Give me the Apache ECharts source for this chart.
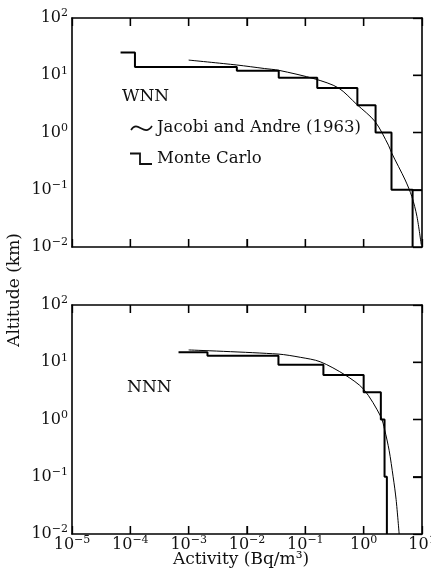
<!DOCTYPE html>
<html><head><meta charset="utf-8">
<script src="https://cdn.jsdelivr.net/npm/echarts@6/dist/echarts.min.js"></script>
<style>html,body{margin:0;padding:0;background:#fff}#c{width:431px;height:582px}</style>
</head><body><div id="c"></div>
<script>
// ---- data ----
// Tick exponents (labels are 10^exp)
const xTickExponents = [-5, -4, -3, -2, -1, 0, 1];
const yTickExponents = [-2, -1, 0, 1, 2];

// WNN panel – Monte Carlo histogram (activity Bq/m3 at each altitude step, km)
const wnnMcActivity = [6.8e-5, 1.2e-4, 6.7e-3, 0.035, 0.16, 0.78, 1.6, 3.0, 6.9];
const wnnMcAltitude = [25, 14, 12, 9, 6, 3, 1, 0.1, 0.01];
// WNN panel – Jacobi and Andre (1963)
const wnnJaActivity = [0.001, 0.0067, 0.02, 0.035, 0.147, 0.37, 0.76, 1.57, 2.66, 3.05, 5.15, 6.7, 8.2, 9.7];
const wnnJaAltitude = [18.4, 15.1, 13.1, 12.2, 8.6, 6.0, 3.1, 1.55, 0.6, 0.43, 0.148, 0.076, 0.034, 0.011];

// NNN panel – Monte Carlo histogram
const nnnMcActivity = [6.7e-4, 2.1e-3, 0.0346, 0.204, 1.0, 1.97, 2.28, 2.5];
const nnnMcAltitude = [15, 13, 9, 6, 3, 1, 0.1, 0.01];
// NNN panel – Jacobi and Andre (1963)
const nnnJaActivity = [0.001, 0.034, 0.082, 0.18, 0.48, 1.0, 1.97, 2.29, 2.73, 3.2, 3.6, 4.06];
const nnnJaAltitude = [16.4, 13.9, 12.2, 10.2, 6.0, 3.37, 1.12, 0.66, 0.29, 0.1, 0.04, 0.01];

// ---- chart ----
const FONT = 'DejaVu Serif';
const zip = (a, b) => a.map((v, i) => [v, b[i]]);
const xMin = Math.pow(10, xTickExponents[0]), xMax = Math.pow(10, xTickExponents[xTickExponents.length - 1]);
const yMin = Math.pow(10, yTickExponents[0]), yMax = Math.pow(10, yTickExponents[yTickExponents.length - 1]);

function supLabel(v) {
  const e = Math.round(Math.log10(v));
  return '{b|10}{s|' + (e < 0 ? '\u2212' + (-e) : e) + '}';
}
function richStyle() {
  return {
    b: { fontFamily: FONT, fontSize: 16, color: '#111' },
    s: { fontFamily: FONT, fontSize: 11, color: '#111', padding: [0, 0, 9, 0] }
  };
}
function xAx(gi, pos, labels) {
  return {
    type: 'log', logBase: 10, min: xMin, max: xMax, gridIndex: gi, position: pos,
    axisLine: { show: true, onZero: false, lineStyle: { color: '#000', width: 1.6 } },
    axisTick: { show: true, inside: true, length: 8, lineStyle: { color: '#000', width: 1.3 } },
    axisLabel: labels ? { show: true, margin: 1, formatter: supLabel, rich: richStyle() } : { show: false },
    splitLine: { show: false }, minorTick: { show: false }
  };
}
function yAx(gi, pos, labels) {
  return {
    type: 'log', logBase: 10, min: yMin, max: yMax, gridIndex: gi, position: pos,
    axisLine: { show: true, onZero: false, lineStyle: { color: '#000', width: 1.6 } },
    axisTick: { show: pos === 'right', inside: true, length: 9, lineStyle: { color: '#000', width: 1.3 } },
    axisLabel: labels ? { show: true, margin: 4, formatter: supLabel, rich: richStyle() } : { show: false },
    splitLine: { show: false }, minorTick: { show: false }
  };
}
function mc(data, xi, yi) {
  return { type: 'line', xAxisIndex: xi, yAxisIndex: yi, data: data, step: 'end', showSymbol: false,
    lineStyle: { width: 2 } };
}
function ja(data, xi, yi) {
  return { type: 'line', xAxisIndex: xi, yAxisIndex: yi, data: data, smooth: 0.3, showSymbol: false,
    lineStyle: { width: 1 } };
}
const annFont = '16.5px "DejaVu Serif"';

const chart = echarts.init(document.getElementById('c'), null, { renderer: 'canvas' });
const baseGraphic = [
  { type: 'text', x: 122, y: 97, style: { text: 'WNN', font: '17px "DejaVu Serif"', fill: '#111', textVerticalAlign: 'middle' } },
  { type: 'bezierCurve', shape: { x1: 131, y1: 130, cpx1: 138, cpy1: 119, cpx2: 144, cpy2: 138, x2: 152, y2: 126 },
    style: { stroke: '#111', lineWidth: 1.6, fill: null } },
  { type: 'text', x: 157, y: 128, style: { text: 'Jacobi and Andre (1963)', font: annFont, fill: '#111', textVerticalAlign: 'middle' } },
  { type: 'polyline', shape: { points: [[130, 153.5], [140, 153.5], [140, 164], [152, 164]] },
    style: { stroke: '#111', lineWidth: 1.8, fill: null } },
  { type: 'text', x: 157, y: 159, style: { text: 'Monte Carlo', font: annFont, fill: '#111', textVerticalAlign: 'middle' } },
  { type: 'text', x: 127, y: 388, style: { text: 'NNN', font: '17px "DejaVu Serif"', fill: '#111', textVerticalAlign: 'middle' } },
  { type: 'text', x: 15, y: 290, rotation: Math.PI / 2,
    style: { text: 'Altitude (km)', font: '17px "DejaVu Serif"', fill: '#111', textAlign: 'center', textVerticalAlign: 'middle' } },
  { type: 'text', x: 241, y: 560,
    style: { text: 'Activity (Bq/m\u00b3)', font: '17px "DejaVu Serif"', fill: '#111', textAlign: 'center', textVerticalAlign: 'middle' } }
];

chart.setOption({
  animation: false,
  backgroundColor: '#fff',
  color: ['#000'],
  grid: [
    { left: 72, right: 9, top: 18, height: 229, outerBoundsMode: 'none' },
    { left: 72, right: 9, top: 305, height: 229, outerBoundsMode: 'none' }
  ],
  xAxis: [xAx(0, 'bottom', false), xAx(0, 'top', false), xAx(1, 'bottom', true), xAx(1, 'top', false)],
  yAxis: [yAx(0, 'left', true), yAx(0, 'right', false), yAx(1, 'left', true), yAx(1, 'right', false)],
  series: [
    mc(zip(wnnMcActivity, wnnMcAltitude), 0, 0),
    ja(zip(wnnJaActivity, wnnJaAltitude), 0, 0),
    mc(zip(nnnMcActivity, nnnMcAltitude), 2, 2),
    ja(zip(nnnJaActivity, nnnJaAltitude), 2, 2)
  ],
  graphic: baseGraphic
});

// Frame tick marks at the tick values, positioned through the library's own scales
const tickGraphics = [];
[[0, 0], [2, 2]].forEach(([xi, yi]) => {
  const finder = { xAxisIndex: xi, yAxisIndex: yi };
  xTickExponents.slice(1, -1).forEach(e => {
    const b = chart.convertToPixel(finder, [Math.pow(10, e), yMin]);
    const t = chart.convertToPixel(finder, [Math.pow(10, e), yMax]);
    tickGraphics.push({ type: 'line', shape: { x1: b[0], y1: b[1], x2: b[0], y2: b[1] - 8 }, style: { stroke: '#000', lineWidth: 1.3 } });
    tickGraphics.push({ type: 'line', shape: { x1: t[0], y1: t[1], x2: t[0], y2: t[1] + 8 }, style: { stroke: '#000', lineWidth: 1.3 } });
  });
  yTickExponents.slice(1, -1).forEach(e => {
    const r = chart.convertToPixel(finder, [xMax, Math.pow(10, e)]);
    tickGraphics.push({ type: 'line', shape: { x1: r[0], y1: r[1], x2: r[0] - 9, y2: r[1] }, style: { stroke: '#000', lineWidth: 1.3 } });
  });
});
chart.setOption({ graphic: baseGraphic.concat(tickGraphics) }, { replaceMerge: ['graphic'] });
</script>
</body></html>
